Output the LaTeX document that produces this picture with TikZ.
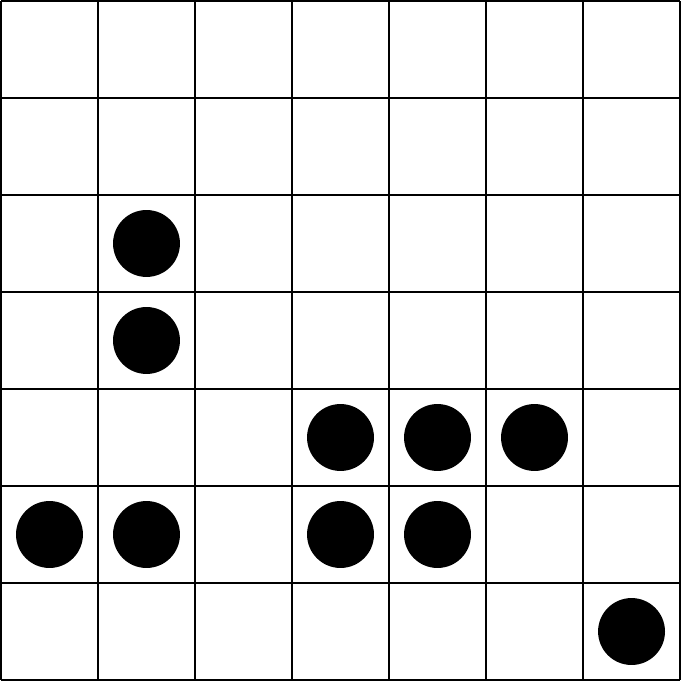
\documentclass[tikz,border=0pt]{standalone}
\begin{document}
\begin{tikzpicture}[x=1cm,y=1cm,
  gridline/.style={line width=0.6pt,black},
  stone/.style={circle,fill=black,inner sep=0pt,minimum size=0.69cm}]
\useasboundingbox (-0.01,-0.01) rectangle (7.01,7.01);
\fill[white] (-0.01,-0.01) rectangle (7.01,7.01);
\draw[gridline] (0,0) grid (7,7);
% stones: (col,row) with row counted from top
\foreach \c/\r [count=\i] in {1/2,1/3,3/4,4/4,5/4,0/5,1/5,3/5,4/5,6/6}
  \node[stone] (s\i) at (\c+0.5,6.5-\r) {};
\end{tikzpicture}
\end{document}
